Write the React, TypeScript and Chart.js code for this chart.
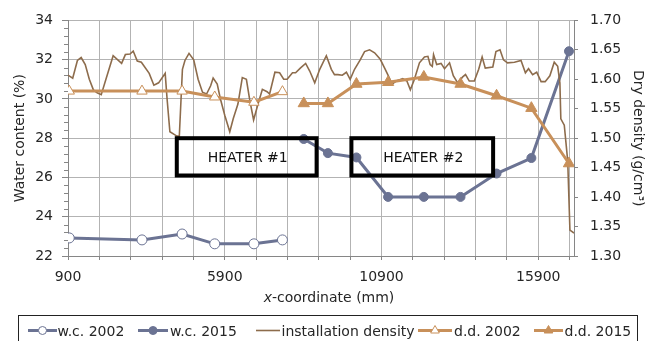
import React, { useEffect, useRef } from 'react';
import { Chart, registerables } from 'chart.js';
Chart.register(...registerables);

// ---- data ----
const wc2002X = [940, 3260, 4540, 5580, 6830, 7740];
const wc2002 = [22.92, 22.82, 23.12, 22.62, 22.62, 22.82];
const dd2002 = [1.58, 1.58, 1.58, 1.57, 1.561, 1.579];

const y2015X = [8420, 9190, 10100, 11110, 12250, 13420, 14570, 15680, 16880];
const wc2015 = [27.96, 27.24, 27.02, 25.01, 25.01, 25.01, 26.2, 26.99, 32.43];
const dd2015 = [1.559, 1.559, 1.592, 1.595, 1.604, 1.592, 1.572, 1.551, 1.457];

const instX = [
  900, 1050, 1200, 1320, 1450, 1580, 1710, 1830, 1960, 2110, 2340, 2610, 2730, 2880, 2980, 3110, 3240, 3490,
  3640, 3790, 4000, 4060, 4150, 4360, 4450, 4550, 4630, 4760, 4910, 5050, 5190, 5320, 5450, 5530, 5660, 5760,
  5900, 6060, 6170, 6320, 6460, 6590, 6700, 6820, 6950, 7100, 7250, 7330, 7500, 7650, 7780, 7890, 8060, 8160,
  8310, 8480, 8610, 8770, 8930, 9140, 9300, 9400, 9510, 9650, 9780, 9900, 10040, 10220, 10360, 10520, 10680,
  10860, 11000, 11100, 11240, 11370, 11580, 11710, 11820, 11950, 12110, 12270, 12380, 12450, 12520, 12560,
  12660, 12800, 12910, 13070, 13190, 13330, 13490, 13580, 13700, 13860, 14000, 14110, 14210, 14450, 14550,
  14680, 14790, 14920, 15140, 15350, 15490, 15590, 15720, 15850, 15990, 16120, 16270, 16410, 16520, 16590,
  16620, 16730, 16840, 16910, 17040,
];
const instD = [
  1.607, 1.602, 1.632, 1.637, 1.625, 1.6, 1.582, 1.577, 1.574, 1.6, 1.64, 1.627, 1.642, 1.643, 1.648, 1.631, 1.629, 1.61,
  1.59, 1.594, 1.61, 1.567, 1.511, 1.504, 1.503, 1.617, 1.632, 1.644, 1.633, 1.6, 1.578, 1.575, 1.589, 1.602, 1.592, 1.567,
  1.539, 1.511, 1.533, 1.558, 1.603, 1.6, 1.564, 1.531, 1.556, 1.583, 1.579, 1.575, 1.612, 1.611, 1.6, 1.6, 1.611, 1.611,
  1.619, 1.627, 1.614, 1.594, 1.617, 1.64, 1.617, 1.608, 1.608, 1.607, 1.612, 1.6, 1.617, 1.633, 1.647, 1.65, 1.645,
  1.634, 1.619, 1.608, 1.592, 1.597, 1.601, 1.597, 1.582, 1.6, 1.628, 1.638, 1.639, 1.625, 1.622, 1.642,
  1.625, 1.627, 1.618, 1.628, 1.606, 1.594, 1.604, 1.608, 1.597, 1.597, 1.617, 1.638, 1.619, 1.621, 1.647,
  1.65, 1.633, 1.628, 1.629, 1.632, 1.611, 1.618, 1.608, 1.612, 1.596, 1.596, 1.606, 1.629, 1.622, 1.594,
  1.533, 1.522, 1.461, 1.344, 1.339,
];

const heaterNames = ['HEATER #1', 'HEATER #2'];
const heaterStart = [4370, 9940];
const heaterEnd = [8830, 14460];
const heaterLow = 26.1;
const heaterHigh = 28;

const xTickValues = [900, 1900, 2900, 3900, 4900, 5900, 6900, 7900, 8900, 9900, 10900, 11900, 12900, 13900, 14900, 15900, 16900];
const xLabelValues = [900, 5900, 10900, 15900];

// ---- styles ----
const FONT = "'DejaVu Sans', Verdana, sans-serif";
const TEXT = '#262626';
const GRID = '#b3b3b3';
const AXIS = '#868686';
const WC = '#6b7393';
const DD = '#c8905a';
const INST = '#8d6c4c';

const pts = (xs: number[], ys: number[]) => xs.map((x, i) => ({ x, y: ys[i] }));

const legendLayout = [
  { sample: [28, 57], textX: 57.5 },
  { sample: [138, 168], textX: 170 },
  { sample: [256, 280], textX: 281.5 },
  { sample: [418, 452], textX: 454 },
  { sample: [534, 563], textX: 564.5 },
];

function drawMarker(ctx: CanvasRenderingContext2D, style: string, x: number, y: number, r: number, fill: string, stroke: string) {
  ctx.beginPath();
  if (style === 'circle') {
    ctx.arc(x, y, r, 0, Math.PI * 2);
  } else if (style === 'triangle') {
    const s = Math.sin(Math.PI * 2 / 3) * r;
    ctx.moveTo(x, y - r);
    ctx.lineTo(x + s, y + r * 0.5);
    ctx.lineTo(x - s, y + r * 0.5);
    ctx.closePath();
  }
  ctx.fillStyle = fill;
  ctx.fill();
  ctx.lineWidth = 1;
  ctx.strokeStyle = stroke;
  ctx.stroke();
}

const decorPlugin = {
  id: 'decor',
  afterDatasetsDraw(chart: any) {
    const { ctx, scales } = chart;
    const x = scales.x;
    const y = scales.y;
    ctx.save();
    for (let i = 0; i < heaterNames.length; i++) {
      const x1 = x.getPixelForValue(heaterStart[i]);
      const x2 = x.getPixelForValue(heaterEnd[i]);
      const y1 = y.getPixelForValue(heaterHigh);
      const y2 = y.getPixelForValue(heaterLow);
      ctx.lineWidth = 4;
      ctx.strokeStyle = '#000';
      ctx.strokeRect(x1, y1, x2 - x1, y2 - y1);
      ctx.fillStyle = '#111';
      ctx.font = `14px ${FONT}`;
      ctx.textAlign = 'center';
      ctx.textBaseline = 'middle';
      ctx.fillText(heaterNames[i], (x1 + x2) / 2 + 1, (y1 + y2) / 2 + 2);
    }
    ctx.restore();
  },
  afterDraw(chart: any) {
    const { ctx, scales, chartArea } = chart;
    const y = scales.y;
    ctx.save();
    // minor ticks on left axis
    ctx.strokeStyle = AXIS;
    ctx.lineWidth = 1;
    for (let v = 22; v <= 34.001; v += 0.4) {
      const r = Math.round(v * 10) / 10;
      if (Math.abs(r / 2 - Math.round(r / 2)) < 1e-6) continue;
      const py = Math.round(y.getPixelForValue(r)) + 0.5;
      ctx.beginPath();
      ctx.moveTo(chartArea.left - 4, py);
      ctx.lineTo(chartArea.left, py);
      ctx.stroke();
    }
    // x-axis title with italic x
    ctx.fillStyle = TEXT;
    ctx.textBaseline = 'middle';
    ctx.textAlign = 'left';
    const italic = `italic 14px ${FONT}`;
    const normal = `14px ${FONT}`;
    ctx.font = italic;
    const w1 = ctx.measureText('x').width;
    ctx.font = normal;
    const rest = '-coordinate (mm)';
    const w2 = ctx.measureText(rest).width;
    const cx = (chartArea.left + chartArea.right) / 2 + 8;
    const sx = cx - (w1 + w2) / 2;
    ctx.font = italic;
    ctx.fillText('x', sx, 298);
    ctx.font = normal;
    ctx.fillText(rest, sx + w1, 298);

    // legend
    ctx.strokeStyle = '#222';
    ctx.lineWidth = 1;
    ctx.strokeRect(18.5, 315.5, 619, 40);
    const ly = 330.5;
    chart.data.datasets.forEach((ds: any, i: number) => {
      const L = legendLayout[i];
      ctx.strokeStyle = ds.borderColor;
      ctx.lineWidth = ds.borderWidth;
      ctx.beginPath();
      ctx.moveTo(L.sample[0], ly);
      ctx.lineTo(L.sample[1], ly);
      ctx.stroke();
      if (ds.pointRadius > 0) {
        const mx = (L.sample[0] + L.sample[1]) / 2;
        const r = ds.pointStyle === 'triangle' ? 5 : 4;
        drawMarker(ctx, ds.pointStyle, mx, ly, r, ds.pointBackgroundColor, ds.pointBorderColor);
      }
      ctx.fillStyle = TEXT;
      ctx.font = normal;
      ctx.textAlign = 'left';
      ctx.textBaseline = 'middle';
      ctx.fillText(ds.label, L.textX, 332);
    });
    ctx.restore();
  },
};

export default function App() {
  const ref = useRef<HTMLCanvasElement>(null);
  useEffect(() => {
    const font = { family: FONT, size: 14 };
    const chart = new Chart(ref.current as HTMLCanvasElement, {
      type: 'line',
      data: {
        datasets: [
          {
            label: 'w.c. 2002', data: pts(wc2002X, wc2002), yAxisID: 'y', order: 5,
            borderColor: WC, borderWidth: 3, pointStyle: 'circle', pointRadius: 5,
            pointBackgroundColor: '#ffffff', pointBorderColor: WC, pointBorderWidth: 1,
          },
          {
            label: 'w.c. 2015', data: pts(y2015X, wc2015), yAxisID: 'y', order: 4,
            borderColor: WC, borderWidth: 3, pointStyle: 'circle', pointRadius: 4.5,
            pointBackgroundColor: WC, pointBorderColor: WC, pointBorderWidth: 1,
          },
          {
            label: 'installation density', data: pts(instX, instD), yAxisID: 'y1', order: 3,
            borderColor: INST, borderWidth: 1.6, pointRadius: 0,
          },
          {
            label: 'd.d. 2002', data: pts(wc2002X, dd2002), yAxisID: 'y1', order: 2,
            borderColor: DD, borderWidth: 3, pointStyle: 'triangle', pointRadius: 6,
            pointBackgroundColor: '#ffffff', pointBorderColor: DD, pointBorderWidth: 1,
          },
          {
            label: 'd.d. 2015', data: pts(y2015X, dd2015), yAxisID: 'y1', order: 1,
            borderColor: DD, borderWidth: 3, pointStyle: 'triangle', pointRadius: 6.5,
            pointBackgroundColor: DD, pointBorderColor: DD, pointBorderWidth: 1,
          },
        ] as any,
      },
      options: {
        responsive: false,
        animation: false,
        events: [],
        layout: { padding: { top: 17, left: 0, right: 0, bottom: 0 } },
        elements: { line: { tension: 0 } },
        plugins: { legend: { display: false }, tooltip: { enabled: false } },
        scales: {
          x: {
            type: 'linear', min: 900, max: 17040,
            afterBuildTicks: (s: any) => { s.ticks = xTickValues.map((v) => ({ value: v })); },
            afterFit: (s: any) => { s.height = 85; },
            ticks: {
              autoSkip: false, maxRotation: 0, minRotation: 0, padding: 9, font, color: TEXT,
              callback: (v: any) => (xLabelValues.includes(Number(v)) ? String(v) : ''),
            },
            grid: { color: GRID, tickColor: AXIS, tickLength: 4, lineWidth: 1 },
            border: { color: AXIS },
          },
          y: {
            position: 'left', min: 22, max: 34,
            afterFit: (s: any) => { s.width = 68; },
            ticks: { stepSize: 2, padding: 9, font, color: TEXT },
            grid: { color: GRID, tickColor: AXIS, tickLength: 6 },
            border: { color: AXIS },
            title: { display: true, text: 'Water content (%)', font, color: TEXT, padding: { top: 11.5, bottom: 0 } },
          },
          y1: {
            position: 'right', min: 1.3, max: 1.7,
            afterFit: (s: any) => { s.width = 72; },
            ticks: { stepSize: 0.05, padding: 12, font, color: TEXT, callback: (v: any) => Number(v).toFixed(2) },
            grid: { drawOnChartArea: false, tickColor: AXIS, tickLength: 4 },
            border: { color: AXIS },
            title: { display: true, text: 'Dry density (g/cm³)', font, color: TEXT, padding: { top: 0, bottom: 0 } },
          },
        },
      } as any,
      plugins: [decorPlugin],
    });
    return () => chart.destroy();
  }, []);
  return (
    <div style={{ position: 'fixed', left: 0, top: 0, width: 646, height: 341, background: '#fff' }}>
      <canvas ref={ref} width={646} height={341} style={{ display: 'block', width: 646, height: 341 }} />
    </div>
  );
}
